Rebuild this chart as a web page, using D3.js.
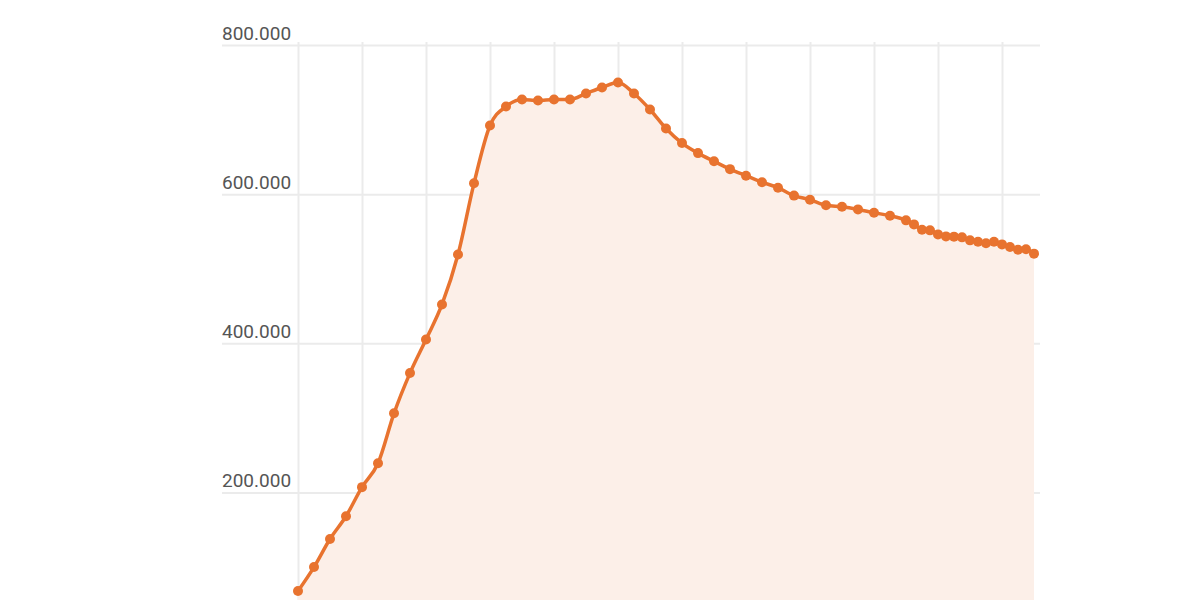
<!DOCTYPE html>
<html>
<head>
<meta charset="utf-8">
<script src="https://cdn.jsdelivr.net/npm/d3@7"></script>
<style>
  html, body { margin: 0; padding: 0; background: #fff; }
  svg { display: block; }
  .y-label { font-family: Roboto, "Noto Sans", sans-serif; font-size: 19px; fill: #555; }
</style>
</head>
<body>
<div id="chart"></div>
<script>
// periods: one step per period, then half steps at the end
const periods = [
  0, 1, 2, 3, 4, 5, 6, 7, 8, 9, 10, 11, 12, 13, 14, 15, 16, 17, 18, 19,
  20, 21, 22, 23, 24, 25, 26, 27, 28, 29, 30, 31, 32, 33, 34, 35, 36, 37,
  38, 38.5, 39, 39.5, 40, 40.5, 41, 41.5, 42, 42.5, 43, 43.5, 44, 44.5, 45, 45.5, 46
];
const values = [
  67700, 99800, 137500, 168000, 207000, 239000, 306000, 360000, 405000, 452000,
  519000, 614500, 692000, 717500, 727000, 725500, 727000, 727000, 735000, 743000,
  749700, 735000, 713500, 688000, 668500, 655000, 644000, 633500, 624700, 616000,
  608600, 598000, 592500, 585000, 583000, 579500, 575000, 571000,
  564800, 559400, 552300, 551400, 546000, 543300, 543000, 542000, 538000, 536200,
  534000, 536200, 532600, 529000, 525500, 526000, 520200
];
const yTicks = [200000, 400000, 600000, 800000];
const xGridTicks = [0, 4, 8, 12, 16, 20, 24, 28, 32, 36, 40, 44];

const data = periods.map((p, i) => ({ p: p, v: values[i] }));

const W = 1200, H = 600;
const svg = d3.select("#chart").append("svg")
  .attr("width", W)
  .attr("height", H);

// Skalor
const x = d3.scaleLinear().domain([0, 46]).range([298, 1034]);
const y = d3.scaleLinear().domain([0, 800000]).range([641.5, 45]);

const locale = d3.formatLocale({ decimal: ",", thousands: ".", grouping: [3], currency: ["", "€"] });
const fmt = locale.format(",.0f");

// vertikala rutnätslinjer
svg.append("g")
  .attr("transform", "translate(0,42)")
  .call(d3.axisBottom(x).tickValues(xGridTicks).tickSize(H).tickFormat(""))
  .call(g => g.select(".domain").remove())
  .call(g => g.selectAll("line").attr("stroke", "#ebebeb").attr("stroke-width", 2));

// horisontella rutnätslinjer
svg.append("g")
  .attr("transform", "translate(1040,0)")
  .call(d3.axisLeft(y).tickValues(yTicks).tickSize(818).tickFormat(""))
  .call(g => g.select(".domain").remove())
  .call(g => g.selectAll("line").attr("stroke", "#ebebeb").attr("stroke-width", 2));

// y-etiketter ovanför linjerna
svg.selectAll(".y-label")
  .data(yTicks)
  .enter().append("text")
  .attr("class", "y-label")
  .attr("x", 222)
  .attr("y", d => y(d) - 5.5)
  .text(d => fmt(d));

// yta
const area = d3.area()
  .x(d => x(d.p))
  .y0(y(0))
  .y1(d => y(d.v))
  .curve(d3.curveMonotoneX);

svg.append("path")
  .datum(data)
  .attr("d", area)
  .attr("fill", "#fcefe8");

// linje
const line = d3.line()
  .x(d => x(d.p))
  .y(d => y(d.v))
  .curve(d3.curveMonotoneX);

svg.append("path")
  .datum(data)
  .attr("d", line)
  .attr("fill", "none")
  .attr("stroke", "#e8732f")
  .attr("stroke-width", 3.5);

// punkter
svg.selectAll(".dot")
  .data(data)
  .enter().append("circle")
  .attr("class", "dot")
  .attr("cx", d => x(d.p))
  .attr("cy", d => y(d.v))
  .attr("r", 5)
  .attr("fill", "#e8732f");
</script>
</body>
</html>
